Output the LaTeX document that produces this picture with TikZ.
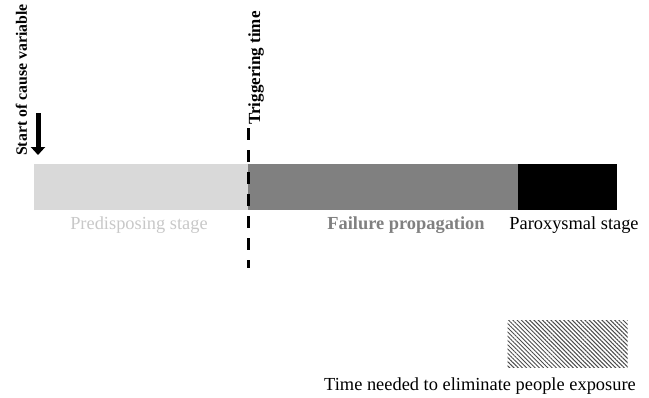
\documentclass[tikz,border=0pt]{standalone}
\usepackage{fontspec}
\setmainfont{Liberation Serif}
\usetikzlibrary{arrows.meta, patterns.meta}
\definecolor{stageLight}{RGB}{217,217,217}
\definecolor{stageMid}{RGB}{128,128,128}
\definecolor{labelLight}{RGB}{200,200,200}

\begin{document}
\begin{tikzpicture}[
    x=1pt, y=-1pt,
    stagebar/.style={draw=none, minimum height=46pt, inner sep=0pt, outer sep=0pt, anchor=north west},
    stagelabel/.style={font=\fontsize{18.4}{20}\selectfont, anchor=base, inner sep=0pt},
    marklabel/.style={font=\fontsize{17}{19}\selectfont\bfseries, rotate=90, anchor=base west, inner sep=0pt},
    trigger/.style={line width=3pt, dash pattern=on 12pt off 10pt},
    startarrow/.style={line width=5pt, -{Triangle[width=14pt,length=8pt]}},
    hatchbox/.style={minimum width=120pt, minimum height=47pt, inner sep=0pt, anchor=north west, pattern={Lines[angle=-45,distance=3pt,line width=1pt]}, pattern color=black!70}
]
    \useasboundingbox (0,0) rectangle (649,397);
    % stages
    \node[stagebar, fill=stageLight, minimum width=214pt] (predisposing) at (34,164) {};
    \node[stagebar, fill=stageMid, minimum width=270pt] (propagation) at (predisposing.north east) {};
    \node[stagebar, fill=black, minimum width=99pt] (paroxysmal) at (propagation.north east) {};

    \node[stagelabel, text=labelLight] (predlabel) at (139,229) {Predisposing stage};
    \node[stagelabel, text=stageMid, font=\fontsize{18.4}{20}\selectfont\bfseries] (proplabel) at (406,229) {Failure propagation};
    \node[stagelabel] (paroxlabel) at (574,229) {Paroxysmal stage};

    % start and trigger marks
    \node[marklabel, font=\fontsize{15.8}{18}\selectfont\bfseries] (startlabel) at (27,156) {Start of cause variable};
    \coordinate (starttop) at (38,113);
    \coordinate (starttip) at (38,155);
    \draw[startarrow] (starttop) -- (starttip);

    \node[marklabel] (triglabel) at (260,125) {Triggering time};
    \coordinate (trigtop) at (248,128);
    \coordinate (trigbottom) at (248,268);
    \draw[trigger] (trigtop) -- (trigbottom);

    % exposure
    \node[hatchbox] (exposure) at (507,320) {};
    \node[stagelabel] (explabel) at (480,390) {Time needed to eliminate people exposure};
\end{tikzpicture}
\end{document}
